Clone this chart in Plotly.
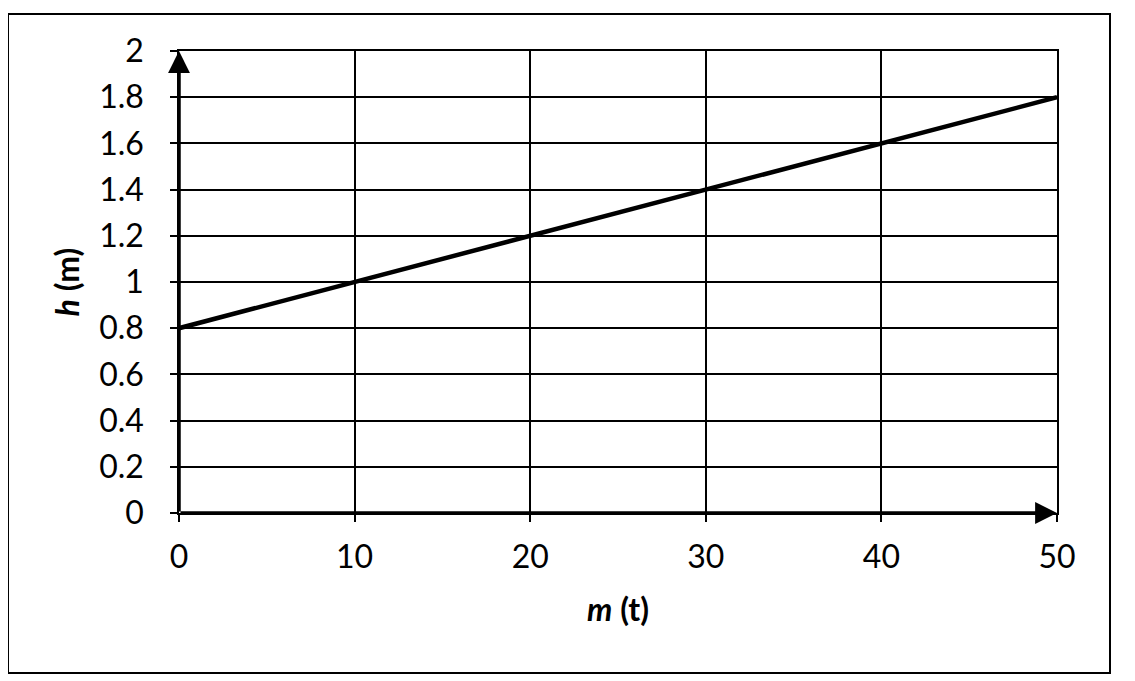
import plotly.graph_objects as go

# 数据：质量 m (t) 与高度 h (m)
m_vals = [0, 10, 20, 30, 40, 50]
h_vals = [0.8, 1.0, 1.2, 1.4, 1.6, 1.8]

x_ticks = [0, 10, 20, 30, 40, 50]
y_ticks = [0, 0.2, 0.4, 0.6, 0.8, 1, 1.2, 1.4, 1.6, 1.8, 2]
y_labels = ["0", "0.2", "0.4", "0.6", "0.8", "1", "1.2", "1.4", "1.6", "1.8", "2"]

FONT = "Lato, 'Open Sans', sans-serif"

# 页面 body 自带 8px 边距，所以目标像素位置都减去 8
OFF = 8
L, R, T, B = 179 - OFF, 1057 - OFF, 51 - OFF, 513 - OFF
PW, PH = R - L, B - T
W, H = 1135, 681

fig = go.Figure(go.Scatter(
    x=m_vals, y=h_vals, mode="lines",
    line=dict(color="black", width=4.5),
    showlegend=False, hoverinfo="skip"
))

fig.update_layout(
    width=W, height=H,
    margin=dict(l=L, r=W - R, t=T, b=H - B),
    paper_bgcolor="white", plot_bgcolor="white",
    font=dict(family=FONT, color="black", size=32),
)

fig.update_xaxes(
    range=[0, 50], tickvals=x_ticks, ticktext=[str(v) for v in x_ticks],
    showgrid=True, gridcolor="black", gridwidth=1.5,
    zeroline=False, showline=True, mirror=True, linecolor="black", linewidth=1.5,
    ticks="outside", ticklen=7, tickwidth=2, tickcolor="black",
    ticklabelstandoff=8,
    tickfont=dict(size=32),
    title=dict(text="<b><i>m</i> (t)</b>", font=dict(size=32), standoff=24),
)
fig.update_yaxes(
    range=[0, 2], tickvals=y_ticks, ticktext=y_labels,
    showgrid=True, gridcolor="black", gridwidth=1.5,
    zeroline=False, showline=True, mirror=True, linecolor="black", linewidth=1.5,
    ticks="outside", ticklen=7, tickwidth=2, tickcolor="black",
    ticklabelstandoff=20,
    tickfont=dict(size=32),
    title=dict(text="<b><i>h</i> (m)</b>", font=dict(size=32), standoff=10),
)

# 坐标轴箭头
fig.add_annotation(x=50, y=0, ax=0, ay=0, xref="x", yref="y", axref="x", ayref="y",
                   text="", showarrow=True, arrowhead=2, arrowsize=1.25,
                   arrowwidth=3.5, arrowcolor="black")
fig.add_annotation(x=0, y=2, ax=0, ay=0, xref="x", yref="y", axref="x", ayref="y",
                   text="", showarrow=True, arrowhead=2, arrowsize=1.25,
                   arrowwidth=3.5, arrowcolor="black")

# 外边框
fig.add_shape(type="rect", xref="paper", yref="paper",
              x0=(8 - OFF - L) / PW, x1=(1110 - OFF - L) / PW,
              y0=(B - (673 - OFF)) / PH, y1=(B - (14 - OFF)) / PH,
              line=dict(color="black", width=2), fillcolor="rgba(0,0,0,0)")

fig.write_html("out.html")
